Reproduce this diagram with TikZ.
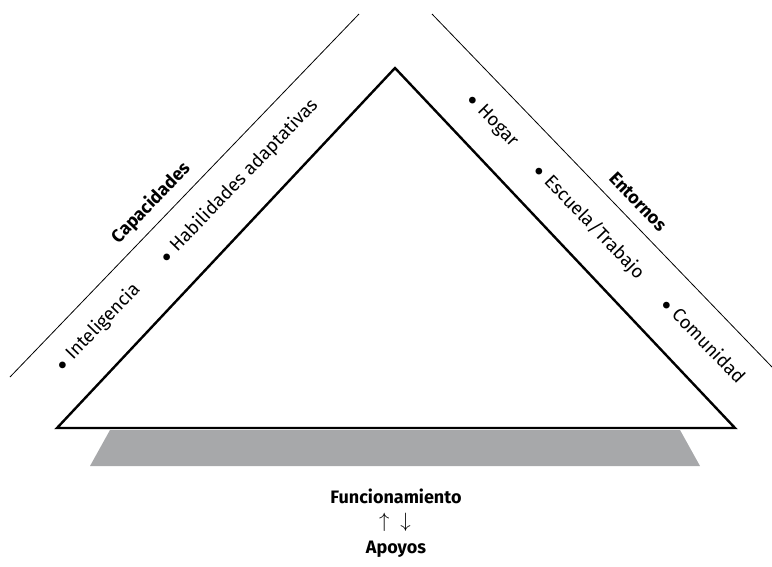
\documentclass[tikz,border=0pt]{standalone}
\usepackage{fontspec}
\setmainfont{Fira Sans}
\usetikzlibrary{positioning}
\definecolor{basegray}{RGB}{167,168,170}
\newcommand{\punto}{$\bullet$\hspace{0.35em}}

\begin{document}
\begin{tikzpicture}[
    x=1pt, y=-1pt,
    item/.style={font=\fontsize{18.5}{18.5}\selectfont, inner sep=1pt},
    heading/.style={font=\fontsize{18}{18}\selectfont\bfseries, inner sep=1pt}
]
\useasboundingbox (0,0) rectangle (772,566);

% base under the triangle
\fill[basegray] (110,430) -- (680,430) -- (700,466) -- (90,466) -- cycle;

% triangle
\coordinate (apex) at (395,68);
\coordinate (bl) at (57,428);
\coordinate (br) at (735,428);
\draw[line width=2.4pt, line join=miter, fill=white] (bl) -- (apex) -- (br) -- cycle;

% guide lines
\coordinate (capfoot) at (10,377);
\coordinate (captop) at (359,14);
\coordinate (enttop) at (432,14);
\coordinate (entfoot) at (772,367);
\draw[line width=0.8pt] (capfoot) -- (captop);
\draw[line width=0.8pt] (enttop) -- (entfoot);

% left side
\node[heading, rotate=46] (capacidades) at (151,203) {Capacidades};
\node[item, rotate=46] (inteligencia) at (98,327) {\punto Inteligencia};
\node[item, rotate=46] (habilidades) at (239,181) {\punto Habilidades adaptativas};

% right side
\node[heading, rotate=-46] (entornos) at (638,202) {Entornos};
\node[item, rotate=-46] (hogar) at (492,121) {\punto Hogar};
\node[item, rotate=-46] (escuela) at (589,222) {\punto Escuela/Trabajo};
\node[item, rotate=-46] (comunidad) at (704,340) {\punto Comunidad};

% bottom
\node[heading] (funcionamiento) at (396,496) {Funcionamiento};
\node[font=\fontsize{22}{22}\selectfont, inner sep=1pt] (flechas) at (395,522) {$\uparrow$\hspace{11pt}$\downarrow$};
\node[heading] (apoyos) at (396,549) {Apoyos};

\end{tikzpicture}
\end{document}
